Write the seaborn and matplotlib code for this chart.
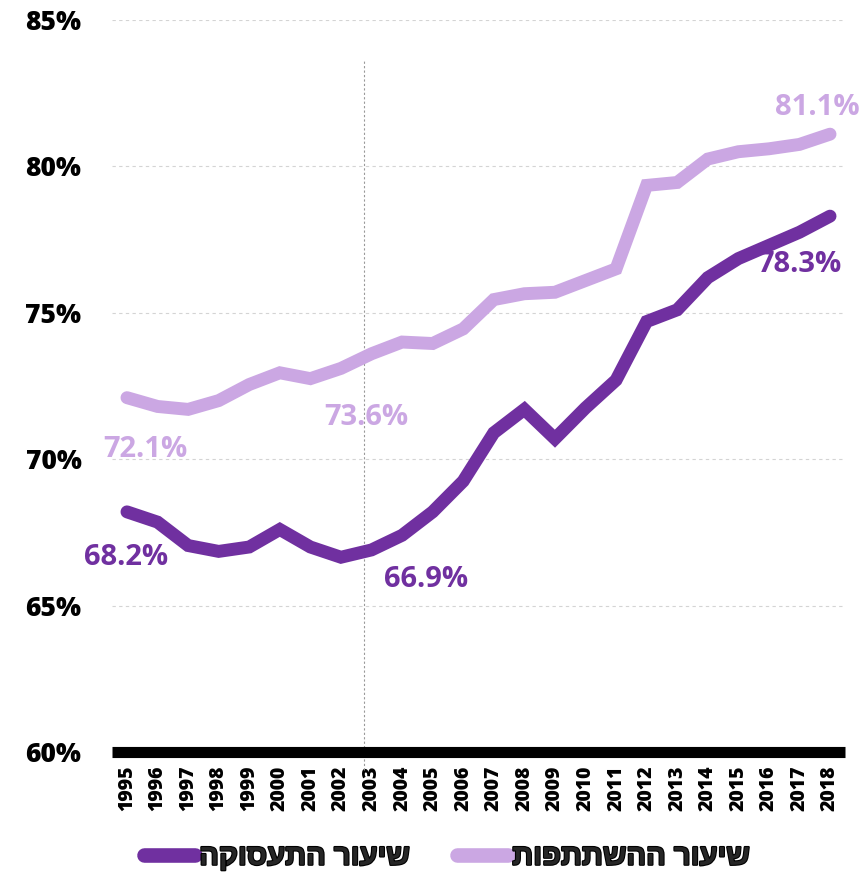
import numpy as np
import pandas as pd
import matplotlib
matplotlib.use("Agg")
import matplotlib.pyplot as plt
import matplotlib.patheffects as pe
import seaborn as sns

years = list(range(1995, 2019))
participation = [72.1, 71.8, 71.7, 72.0, 72.55, 72.95, 72.75, 73.1, 73.6, 74.0, 73.95, 74.45,
                 75.45, 75.65, 75.7, 76.1, 76.5, 79.35, 79.45, 80.25, 80.5, 80.6, 80.75, 81.1]
employment = [68.2, 67.85, 67.05, 66.85, 67.0, 67.6, 67.0, 66.65, 66.9, 67.4, 68.2, 69.25,
              70.9, 71.7, 70.7, 71.75, 72.7, 74.7, 75.1, 76.2, 76.85, 77.3, 77.75, 78.3]

label_emp = "שיעור התעסוקה"
label_part = "שיעור ההשתתפות"

dark = "#7030A0"
light = "#CBA7E3"

sns.set_style("white")
plt.rcParams['font.family'] = ['Open Sans', 'DejaVu Sans']

df = pd.DataFrame({"year": years, "participation": participation, "employment": employment})

fig = plt.figure(figsize=(8.66, 8.76), dpi=100)
ax = fig.add_axes([112 / 866, 0.1416, 733 / 866, 0.8356])

# grid and reference line
for v in [65, 70, 75, 80, 85]:
    ax.axhline(v, color="#d4d4d4", lw=0.8, ls=(0, (3, 3)), zorder=0)
ax.axvline(2002.75, ymin=-0.025, ymax=0.945, color="#999999", lw=0.8, ls=(0, (2, 2)),
           clip_on=False, zorder=1)

sns.lineplot(data=df, x="year", y="participation", ax=ax, color=light, lw=9.3,
             solid_capstyle="round", solid_joinstyle="miter", zorder=3)
sns.lineplot(data=df, x="year", y="employment", ax=ax, color=dark, lw=9.3,
             solid_capstyle="round", solid_joinstyle="miter", zorder=3)

ax.set_xlim(1994.51, 2018.49)
ax.set_ylim(60, 85)
ax.set_yticks([60, 65, 70, 75, 80, 85])
ax.set_yticklabels([f"{v}%" for v in [60, 65, 70, 75, 80, 85]], fontsize=19,
                   fontweight="heavy", color="black")
ax.set_xticks(years)
ax.set_xticklabels([str(y) for y in years], rotation=90, fontsize=14, fontweight="heavy",
                   color="black")
ax.tick_params(axis="both", length=0)
ax.tick_params(axis="x", pad=10)
ax.tick_params(axis="y", pad=22)
ax.set_xlabel("")
ax.set_ylabel("")
for s in ["top", "right", "left"]:
    ax.spines[s].set_visible(False)
ax.spines["bottom"].set_linewidth(8)
ax.spines["bottom"].set_color("black")
ax.spines["bottom"].set_capstyle("butt")

# value labels
kw = dict(fontsize=21, fontweight="bold", ha="center", va="center")
i95, i03, i18 = 0, years.index(2003), len(years) - 1
ax.annotate(f"{participation[i95]:.1f}%", (years[i95], participation[i95]), xytext=(13, -37),
            textcoords="offset points", color=light, **kw)
ax.annotate(f"{participation[i03]:.1f}%", (years[i03], participation[i03]), xytext=(-4, -46),
            textcoords="offset points", color=light, **kw)
ax.annotate(f"{participation[i18]:.1f}%", (years[i18], participation[i18]), xytext=(-9, 19),
            textcoords="offset points", color=light, **kw)
ax.annotate(f"{employment[i95]:.1f}%", (years[i95], employment[i95]), xytext=(-1, -33),
            textcoords="offset points", color=dark, **kw)
ax.annotate(f"{employment[i03]:.1f}%", (years[i03], employment[i03]), xytext=(39, -21),
            textcoords="offset points", color=dark, **kw)
ax.annotate(f"{employment[i18]:.1f}%", (years[i18], employment[i18]), xytext=(-22, -35),
            textcoords="offset points", color=dark, **kw)

# legend (matplotlib has no bidi, so reverse Hebrew for display)
h1, = ax.plot([], [], color=dark, lw=10.5, solid_capstyle="round")
h2, = ax.plot([], [], color=light, lw=10.5, solid_capstyle="round")
leg = fig.legend([h1, h2], [label_emp[::-1], label_part[::-1]], loc="center",
                 bbox_to_anchor=(0.516, 0.022), ncol=2, frameon=False, handlelength=1.75,
                 handletextpad=0.15, columnspacing=1.6,
                 prop={"size": 21, "weight": "bold", "family": ["Liberation Sans", "DejaVu Sans"]})
for t in leg.get_texts():
    t.set_path_effects([pe.withStroke(linewidth=1.6, foreground="black")])

fig.savefig("out.png", dpi=100)
